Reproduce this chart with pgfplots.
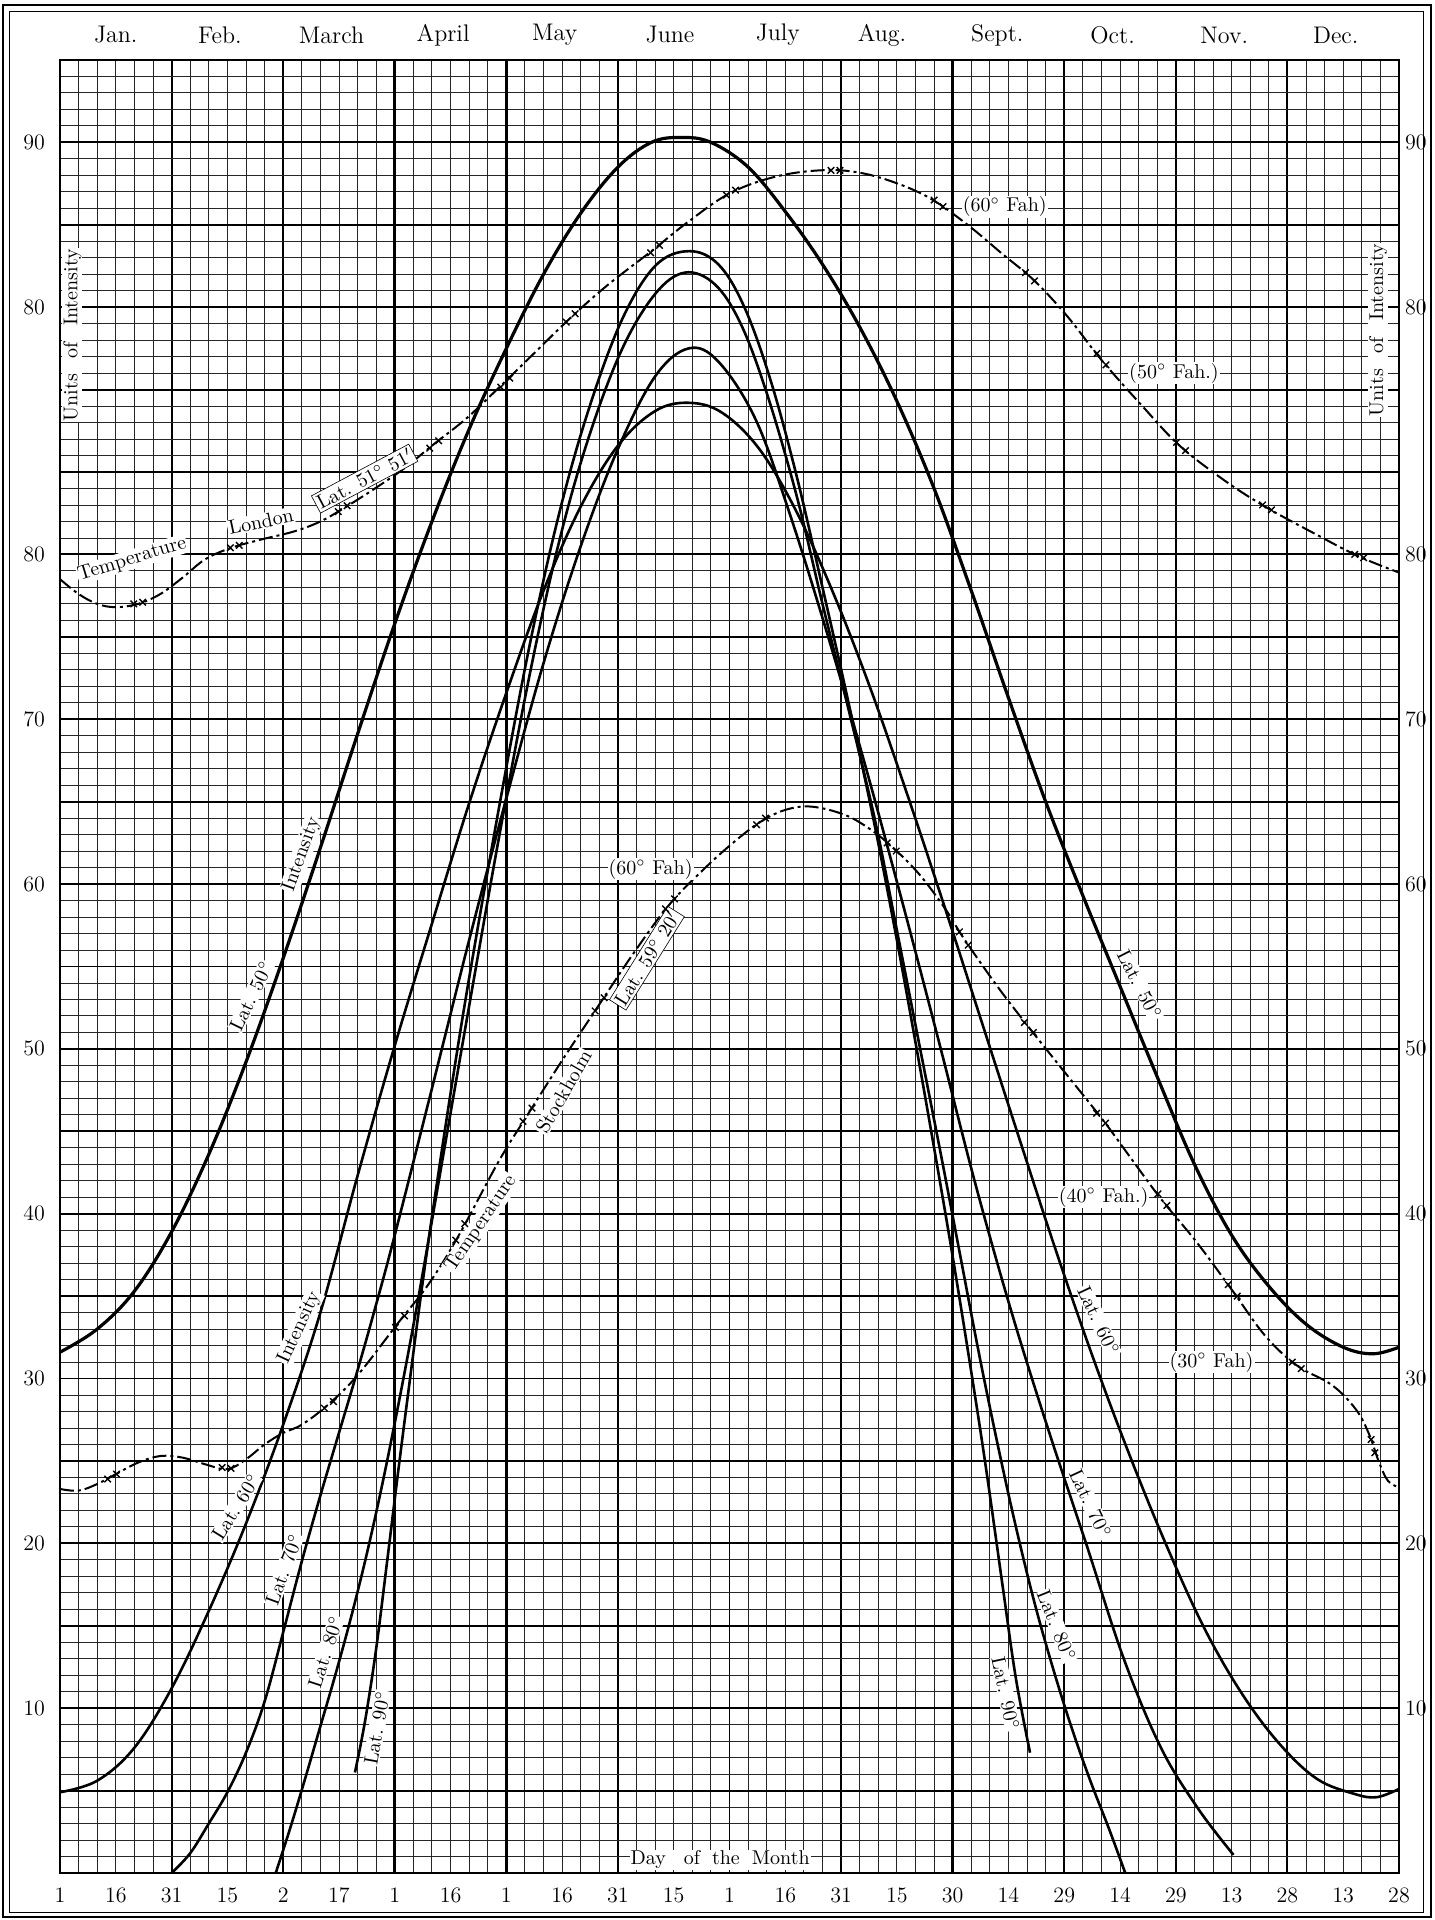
\documentclass[border=0pt]{standalone}
\usepackage{fontspec}
\usepackage{pgfplots}
\pgfplotsset{compat=1.18}
\newcommand{\dg}{$^{\circ}$}
\begin{document}
\begin{tikzpicture}[lbl/.style={font=\fontsize{10}{11}\selectfont, fill=white, inner sep=0.5pt}]
\begin{axis}[
  scale only axis, width=669.5pt, height=906.5pt,
  xmin=1, xmax=361, ymin=0, ymax=110,
  clip=false,
  axis line style={line width=1.1pt},
  xtick={1,31,...,361}, minor xtick={1,6,...,361},
  ytick={0,5,...,110}, minor ytick={0,1,...,110},
  xticklabels={}, yticklabels={},
  grid=both,
  major grid style={line width=0.95pt, black},
  minor grid style={line width=0.45pt, black!85},
  major tick length=0pt, minor tick length=0pt,
  extra x ticks={1,16,...,361},
  extra x tick labels={1,16,31,15,2,17,1,16,1,16,31,15,1,16,31,15,30,14,29,14,29,13,28,13,28},
  extra y ticks={10,20,30,40,50,60,70,80,95,105},
  extra y tick labels={10,20,30,40,50,60,70,80,80,90},
  extra x tick style={grid=none, major tick length=0pt},
  extra y tick style={grid=none, major tick length=0pt},
  tick label style={font=\fontsize{11}{12}\selectfont},
  xticklabel style={yshift=-4pt},
  yticklabel style={xshift=-4pt},
]
% extra bold verticals
\draw[line width=1.5pt] (axis cs:91,0) -- (axis cs:91,110);
\draw[line width=1.6pt] (axis cs:121,0) -- (axis cs:121,110);
\draw[line width=1.6pt] (axis cs:241,0) -- (axis cs:241,110);

% Lat 50 intensity
\addplot[line width=1.6pt, smooth, tension=0.6] coordinates {
(1,31.6) (11,33.0) (21,35.3) (31,38.9) (41,43.6) (51,49.2) (61,55.5) (71,62.2) (81,69.1) (91,75.8) (101,82.0) (111,87.6) (121,92.5) (131,97.0) (141,100.7) (151,103.5) (160,105.0) (168,105.3) (176,105.0) (186,103.5) (196,100.8) (206,97.6) (216,93.8) (226,89.3) (236,84.0) (246,77.8) (256,71.3) (266,65.0) (276,59.3) (286,53.8) (296,48.3) (306,43.0) (316,38.7) (326,35.6) (336,33.3) (346,31.9) (354,31.5) (361,31.9)};

% Lat 60
\addplot[line width=1.3pt, smooth, tension=0.6] coordinates {
(1,4.9) (11,5.6) (21,7.6) (31,11.2) (41,15.9) (51,21.2) (61,27.2) (71,34.0) (81,42.3) (91,50.2) (101,57.6) (111,64.9) (121,71.6) (131,77.8) (141,82.9) (151,86.6) (161,88.7) (170,89.2) (179,88.6) (189,86.4) (199,82.6) (209,77.6) (219,71.8) (229,65.3) (239,58.5) (249,51.5) (259,44.5) (269,37.6) (279,31.1) (289,25.1) (299,19.6) (309,14.7) (319,10.8) (329,7.8) (339,5.7) (349,4.8) (355,4.6) (361,5.1)};

% Lat 70
\addplot[line width=1.3pt, smooth, tension=0.6] coordinates {
(31,0) (36,1.2) (41,3.0) (46,4.9) (51,7.3) (56,10.4) (61,14.6) (66,18.9) (71,22.9) (76,26.7) (81,30.5) (86,34.5) (91,38.7) (101,47.6) (111,56.6) (121,65.2) (131,73.4) (141,80.5) (151,86.4) (161,90.8) (170,92.5) (178,91.7) (188,88.2) (197,82.6) (207,75.4) (217,67.6) (227,59.3) (237,50.7) (247,41.9) (257,33.9) (267,26.7) (277,19.9) (287,13.0) (297,7.6) (307,3.9) (316.5,1.1)};

% Lat 80
\addplot[line width=1.3pt, smooth, tension=0.6] coordinates {
(59,0) (63,2.8) (67,5.8) (71,8.9) (75,12.0) (79,15.3) (83,18.9) (87,22.9) (91,27.3) (95,32.0) (99,37.0) (105,44.8) (111,52.6) (119,62.8) (127,72.4) (135,80.6) (143,87.0) (152,92.4) (161,95.8) (169,97.1) (177,96.4) (184,94.0) (191,89.8) (199,83.6) (206,77.0) (213,70.6) (220,64.0) (226,57.2) (232,50.3) (238,43.4) (243,37.5) (248,31.6) (253,26.1) (258,21.0) (263,16.4) (268,12.4) (273,8.8) (278,5.6) (283,2.7) (287.4,0)};

% Lat 90
\addplot[line width=1.3pt, smooth, tension=0.6] coordinates {
(80.3,6.1) (83,9.2) (86,13.6) (89,19.0) (92,24.5) (95,29.8) (98,35.0) (101,39.8) (106,47.3) (111,54.3) (119,64.6) (127,74.2) (135,82.3) (143,88.7) (152,94.2) (161,97.5) (170,98.4) (178,97.6) (185,95.0) (192,90.6) (199,84.8) (206,78.0) (213,71.0) (220,63.6) (226,56.6) (231,50.4) (236,44.0) (241,37.4) (246,30.4) (250,24.5) (254.5,17.3) (258,11.8) (261.8,7.3)};

% London temperature
\addplot[line width=1pt, smooth, tension=0.6, dash pattern=on 7pt off 2pt on 1.5pt off 2pt] coordinates {
(1,78.5) (6,77.6) (11,77.0) (16,76.8) (22,77.0) (28,77.6) (34,78.6) (40,79.7) (47,80.4) (55,80.9) (64,81.4) (71,82.0) (78,82.9) (87,84.2) (94,85.3) (101,86.6) (110,88.2) (118,89.9) (128,92.1) (138,94.3) (148,96.3) (160,98.4) (170,100.2) (181,101.9) (193,102.9) (205,103.3) (215,103.2) (225,102.6) (235,101.6) (245,100.0) (254,98.3) (263,96.6) (272,94.4) (281,91.8) (292,89.0) (302,86.6) (314,84.5) (325,82.9) (338,81.3) (350,79.9) (361,78.9)};
\addplot[only marks, mark=x, mark size=2.3pt, line width=0.7pt] coordinates {
(20.8,77.0) (23.2,77.1) (46.8,80.4) (49.2,80.55) (75.8,82.6) (78.2,82.95) (100.4,86.45) (102.8,86.9) (119.5,90.15) (121.9,90.7) (137.1,94.1) (139.5,94.6) (159.8,98.3) (162.2,98.75) (180.2,101.8) (182.6,102.1) (208.3,103.3) (210.7,103.3) (236,101.5) (238.4,101.1) (260.6,97.1) (263,96.6) (279.8,92.2) (282.2,91.5) (301.2,86.8) (303.6,86.3) (324.3,83.0) (326.7,82.7) (349.1,80.0) (351.5,79.8)};

% Stockholm temperature
\addplot[line width=1pt, smooth, tension=0.6, dash pattern=on 7pt off 2pt on 1.5pt off 2pt] coordinates {
(1,23.3) (6,23.2) (11,23.6) (16,24.2) (22,24.9) (28,25.3) (34,25.2) (40,24.8) (46,24.5) (51,25.1) (56,26.0) (61,26.7) (66,27.2) (73,28.4) (81,30.2) (92,33.4) (100,35.7) (108,38.6) (119,43.2) (127,46.1) (136,49.3) (146,52.7) (155.5,55.9) (165,58.8) (175,61.1) (183,62.7) (189.5,63.8) (196,64.5) (203,64.7) (212,64.2) (219,63.3) (225,62.2) (232,60.6) (239,58.5) (244,56.7) (253,53.8) (261.5,51.3) (270,48.9) (281,45.8) (288.5,43.5) (297,40.9) (306.5,38.3) (316,35.4) (325,32.6) (333.5,30.8) (343,29.6) (349.5,28.1) (353,26.6) (355.5,25.0) (358,23.8) (361,23.4)};
\addplot[only marks, mark=x, mark size=2.3pt, line width=0.7pt] coordinates {
(13.8,23.9) (16.2,24.2) (44.6,24.6) (47,24.55) (72.1,28.2) (74.5,28.6) (91.2,33.1) (93.6,33.8) (107.4,38.4) (109.8,39.4) (125.5,45.6) (127.9,46.4) (144.9,52.3) (147.3,53.1) (163.8,58.5) (166.2,59.1) (188.3,63.6) (190.7,64.0) (223.4,62.5) (225.8,62.0) (242.8,57.1) (245.2,56.3) (260.3,51.6) (262.7,51.0) (279.7,46.1) (282.1,45.5) (296.2,41.2) (298.6,40.5) (315.1,35.7) (317.5,35.0) (332.3,31.0) (334.7,30.6) (353.5,26.3) (354.5,25.5)};

% month labels
\foreach \m/\d in {Jan./16, Feb./44, March/74, April/104, May/134, June/165, July/194, Aug./222, Sept./253, Oct./284, Nov./314, Dec./344}{
  \edef\temp{\noexpand\node[font=\noexpand\fontsize{12}{13}\noexpand\selectfont, yshift=12.5pt] at (axis cs:\d,110) {\m};}\temp
}
% right labels
\foreach \v/\t in {10/10,20/20,30/30,40/40,50/50,60/60,70/70,80/80,95/80,105/90}{
  \edef\temp{\noexpand\node[font=\noexpand\fontsize{11}{12}\noexpand\selectfont, anchor=west, xshift=-0.5pt] at (axis cs:361,\v) {\t};}\temp
}
% axis captions
\node[lbl, rotate=90] at (axis cs:4.3,93.3) {Units\hspace{0.8em}of\hspace{0.8em}Intensity};
\node[lbl, rotate=90] at (axis cs:355.4,93.6) {Units\hspace{0.8em}of\hspace{0.8em}Intensity};
\node[lbl] at (axis cs:178.5,0.8) {Day\hspace{0.9em}of\hspace{0.6em}the\hspace{0.6em}Month};

% curve labels, left
\node[lbl, rotate=64] at (axis cs:52.4,53.2) {Lat. 50\dg};
\node[lbl, rotate=70] at (axis cs:66,61.8) {Intensity};
\node[lbl, rotate=17] at (axis cs:20.4,79.7) {Temperature};
\node[lbl, rotate=12] at (axis cs:55,82.0) {London};
\node[lbl, rotate=28, draw, line width=0.3pt, inner sep=1pt] at (axis cs:82.9,84.6) {Lat. 51\dg\ 51$'$};
\node[lbl, rotate=58] at (axis cs:48.3,22.2) {Lat. 60\dg};
\node[lbl, rotate=65] at (axis cs:65.4,33.1) {Intensity};
\node[lbl, rotate=70] at (axis cs:61.2,18.4) {Lat. 70\dg};
\node[lbl, rotate=72] at (axis cs:72.4,13.4) {Lat. 80\dg};
\node[lbl, rotate=80] at (axis cs:86.2,8.8) {Lat. 90\dg};
\node[lbl, rotate=56] at (axis cs:114.2,39.4) {Temperature};
\node[lbl, rotate=60] at (axis cs:136.4,47.4) {Stockholm};
\node[lbl, rotate=58, draw, line width=0.3pt, inner sep=1pt] at (axis cs:158.8,55.5) {Lat. 59\dg\ 20$'$};
\node[lbl] at (axis cs:159.8,60.9) {(60\dg\ Fah)};
% right
\node[lbl] at (axis cs:255,101.1) {(60\dg\ Fah)};
\node[lbl] at (axis cs:300.5,91.0) {(50\dg\ Fah.)};
\node[lbl, rotate=-63] at (axis cs:291.2,53.9) {Lat.\hspace{0.5em}50\dg};
\node[lbl] at (axis cs:281.6,41.0) {(40\dg\ Fah.)};
\node[lbl] at (axis cs:310.6,31.0) {(30\dg\ Fah)};
\node[lbl, rotate=-65] at (axis cs:280.2,33.5) {Lat. 60\dg};
\node[lbl, rotate=-65] at (axis cs:278,22.4) {Lat. 70\dg};
\node[lbl, rotate=-68] at (axis cs:268.9,15.0) {Lat. 80\dg};
\node[lbl, rotate=-78] at (axis cs:255.2,10.9) {Lat. 90\dg};
\end{axis}
\pgfresetboundingbox
\useasboundingbox ([xshift=-30pt,yshift=-23.5pt]current axis.south west) rectangle ([xshift=17.5pt,yshift=30pt]current axis.north east);
\draw[line width=1.4pt] ([xshift=-28.5pt,yshift=-22pt]current axis.south west) rectangle ([xshift=16pt,yshift=27.5pt]current axis.north east);
\draw[line width=0.5pt] ([xshift=-25pt,yshift=-19.5pt]current axis.south west) rectangle ([xshift=12pt,yshift=24pt]current axis.north east);
\end{tikzpicture}
\end{document}
